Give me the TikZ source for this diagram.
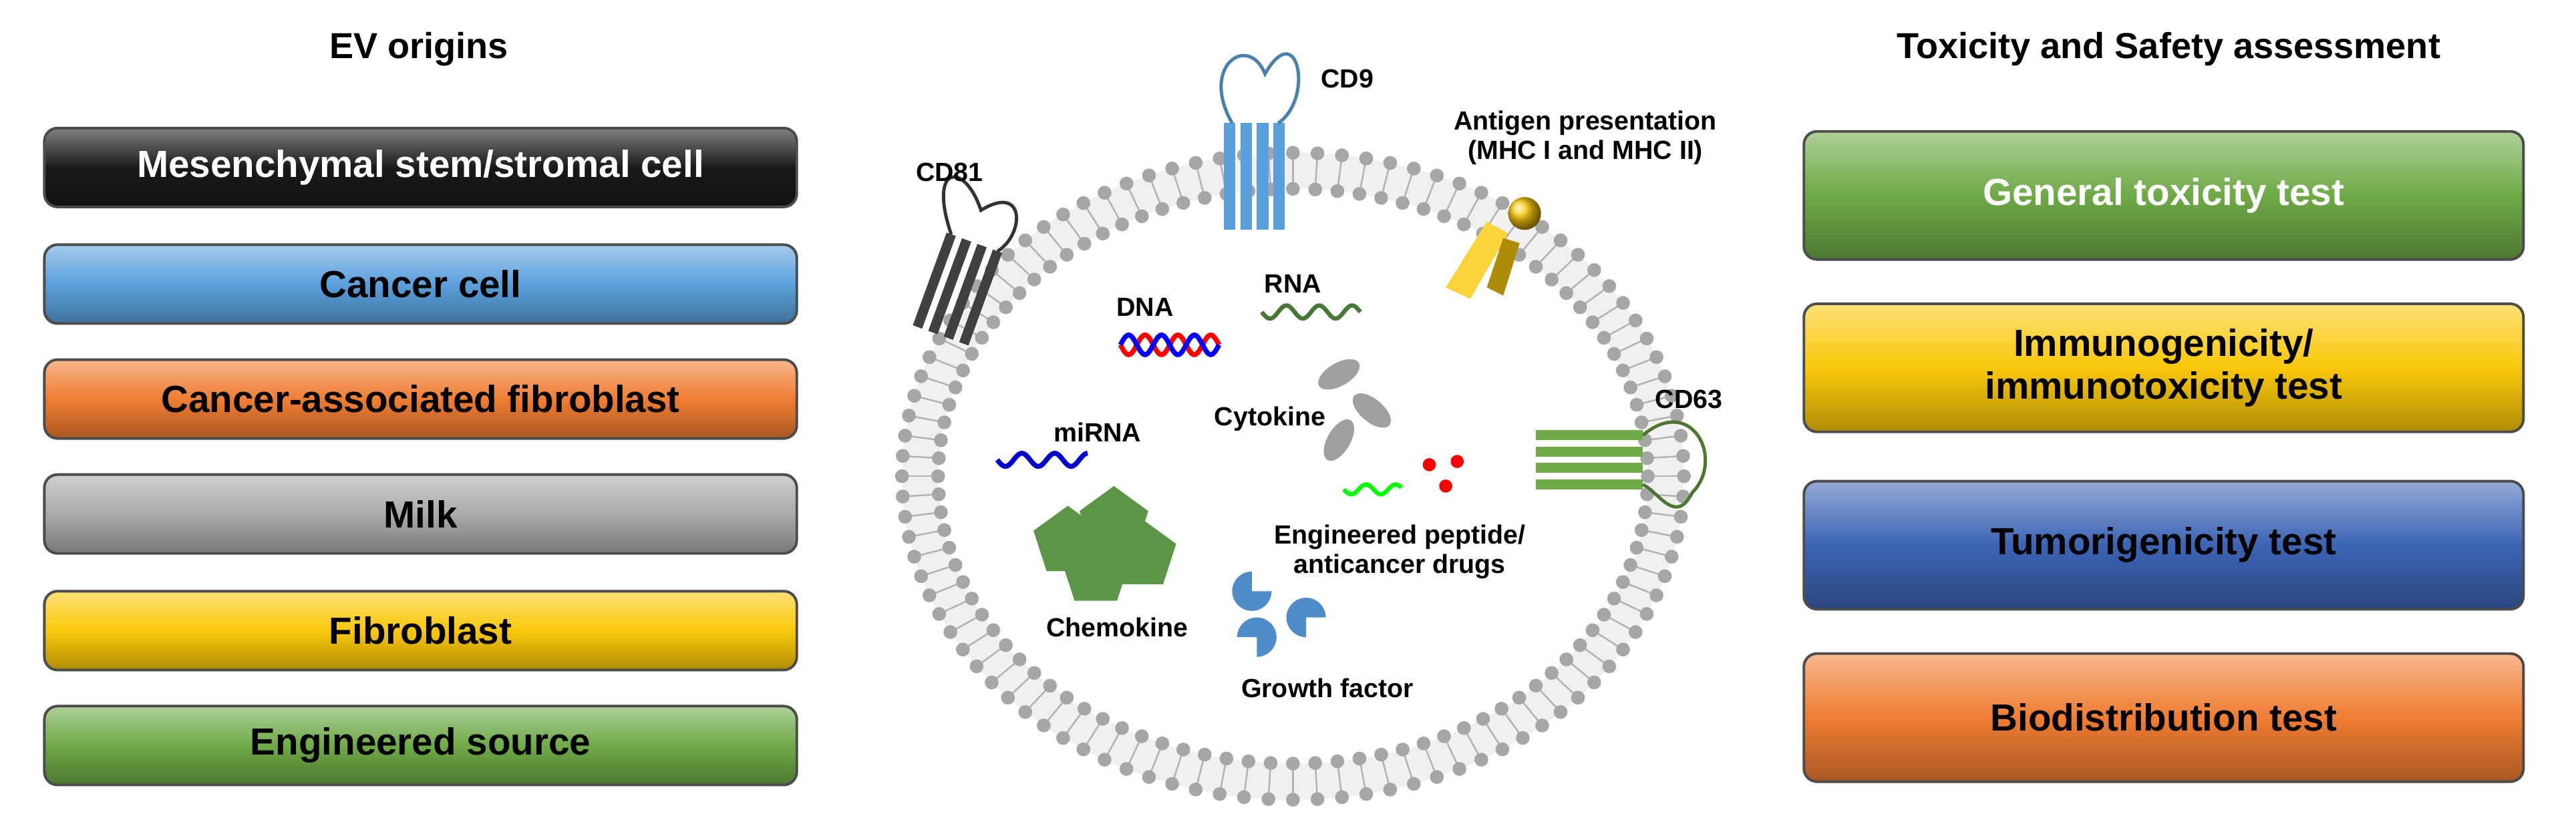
\documentclass[tikz,border=0pt]{standalone}
\usepackage{fontspec}
\setmainfont{Liberation Sans}
\usetikzlibrary{shapes.geometric}
\definecolor{cA}{RGB}{25,25,25}
\definecolor{cB}{RGB}{90,160,220}
\definecolor{cC}{RGB}{240,125,50}
\definecolor{cD}{RGB}{170,170,170}
\definecolor{cE}{RGB}{250,200,10}
\definecolor{cF}{RGB}{110,170,70}
\definecolor{cG}{RGB}{60,100,180}
\definecolor{cyt}{RGB}{160,160,160}
\definecolor{pent}{RGB}{90,150,70}
\definecolor{gfc}{RGB}{80,140,200}
\begin{document}
\begin{tikzpicture}[x=0.5pt,y=-0.5pt,
  box/.style={rounded corners=4pt,draw=gray!60!black,line width=0.8pt},
  lab/.style={font=\bfseries\fontsize{8}{9}\selectfont,align=center},
  ttl/.style={font=\bfseries\fontsize{11}{13}\selectfont},
  btxt/.style={font=\bfseries\fontsize{11.5}{13}\selectfont,align=center}]
\useasboundingbox (0,0) rectangle (1568,498);
\node[ttl] (t1) at (255,30) {EV origins};
\node[ttl] (t2) at (1320,30) {Toxicity and Safety assessment};
% left boxes
\foreach \y/\c/\t/\tc [count=\i] in {78/cA/{Mesenchymal stem/stromal cell}/white,149/cB/{Cancer cell}/black,219/cC/{Cancer-associated fibroblast}/black,289/cD/{Milk}/black,360/cE/{Fibroblast}/black,430/cF/{Engineered source}/black}{
  \shade[box,top color=\c!55!white,bottom color=\c!70!black,middle color=\c] (27,\y) rectangle (485,\y+48);
  \node[btxt,text=\tc] (l\i) at (256,\y+24) {\t};}
% right boxes
\foreach \y/\c/\t/\tc [count=\i] in {80/cF/{General toxicity test}/white,185/cE/{Immunogenicity/\\immunotoxicity test}/black,293/cG/{Tumorigenicity test}/black,398/cC/{Biodistribution test}/black}{
  \shade[box,top color=\c!55!white,bottom color=\c!70!black,middle color=\c] (1098,\y) rectangle (1536,\y+78);
  \node[btxt,text=\tc] (r\i) at (1317,\y+39) {\t};}
% membrane
\fill[gray!12,even odd rule] (787,290) ellipse [x radius=238,y radius=197] (787,290) ellipse [x radius=216,y radius=175];
\foreach \a in {0,3.6,...,359}{
  \draw[gray!60,line width=0.5pt] ({787+235*cos(\a)},{290+194*sin(\a)}) -- ({787+219*cos(\a)},{290+178*sin(\a)});
  \fill[gray!70] ({787+238*cos(\a)},{290+197*sin(\a)}) circle (4.2);
  \fill[gray!70] ({787+216*cos(\a)},{290+175*sin(\a)}) circle (4.2);}
% CD9
\foreach \x in {745,755,765,775}{\fill[cB] (\x,75) rectangle (\x+7,140);}
\draw[cB!80!black,line width=1pt] (750,75) .. controls (730,40) and (760,20) .. (770,45) .. controls (790,10) and (800,60) .. (778,75);
% CD81
\begin{scope}[rotate around={-20:(580,175)}]
\foreach \x in {565,575,585,595}{\fill[black!75] (\x,145) rectangle (\x+6,205);}
\draw[black!80,line width=1pt] (568,145) .. controls (540,110) and (560,100) .. (580,125) .. controls (600,100) and (610,130) .. (598,145);
\end{scope}
% CD63
\foreach \y in {262,272,282,292}{\fill[cF] (935,\y) rectangle (1000,\y+6);}
\draw[cF!70!black,line width=1pt] (1000,265) .. controls (1030,240) and (1050,280) .. (1030,300) .. controls (1020,320) and (1010,300) .. (1000,295);
% MHC
\fill[cE!80!white] (880,175) -- (905,135) -- (918,142) -- (895,182) -- cycle;
\fill[cE!70!black] (905,175) -- (915,145) -- (925,148) -- (915,180) -- cycle;
\shade[ball color=cE] (928,130) circle (10);
% molecules
\draw[red,line width=1.5pt,domain=0:60,samples=60] plot ({682+\x},{210+6*sin(\x*18)});
\draw[blue,line width=1.5pt,domain=0:60,samples=60] plot ({682+\x},{210-6*sin(\x*18)});
\draw[pent!80!black,line width=1.3pt,domain=0:60,samples=60] plot ({768+\x},{190+4*sin(\x*18)});
\draw[blue!80!black,line width=1.5pt,domain=0:55,samples=60] plot ({607+\x},{280+4*sin(\x*18)});
\draw[green,line width=1.3pt,domain=0:35,samples=40] plot ({818+\x},{298+3*sin(\x*20)});
\fill[red] (870,283) circle (4) (887,281) circle (4) (880,296) circle (4);
\fill[cyt] (815,228) ellipse [x radius=14,y radius=7,rotate=30];
\fill[cyt] (835,250) ellipse [x radius=14,y radius=7,rotate=-40];
\fill[cyt] (815,268) ellipse [x radius=14,y radius=7,rotate=60];
\foreach \p in {{(650,330)},{(678,318)},{(667,348)},{(695,338)}}{\node[regular polygon,regular polygon sides=5,fill=pent,minimum size=22pt,inner sep=0] at \p {};}
\fill[gfc] (762,360) -- ++(0:12) arc (0:270:12) -- cycle;
\fill[gfc] (795,376) -- ++(90:12) arc (90:360:12) -- cycle;
\fill[gfc] (765,388) -- ++(180:12) arc (180:450:12) -- cycle;
% labels
\node[lab] (cd9) at (820,48) {CD9};
\node[lab] (cd81) at (578,105) {CD81};
\node[lab] (ag) at (965,84) {Antigen presentation\\(MHC I and MHC II)};
\node[lab] (cd63) at (1028,243) {CD63};
\node[lab] (dna) at (697,187) {DNA};
\node[lab] (rna) at (787,173) {RNA};
\node[lab] (cytk) at (773,255) {Cytokine};
\node[lab] (mir) at (668,263) {miRNA};
\node[lab] (eng) at (852,336) {Engineered peptide/\\anticancer drugs};
\node[lab] (che) at (680,382) {Chemokine};
\node[lab] (gf) at (808,419) {Growth factor};
\end{tikzpicture}
\end{document}
